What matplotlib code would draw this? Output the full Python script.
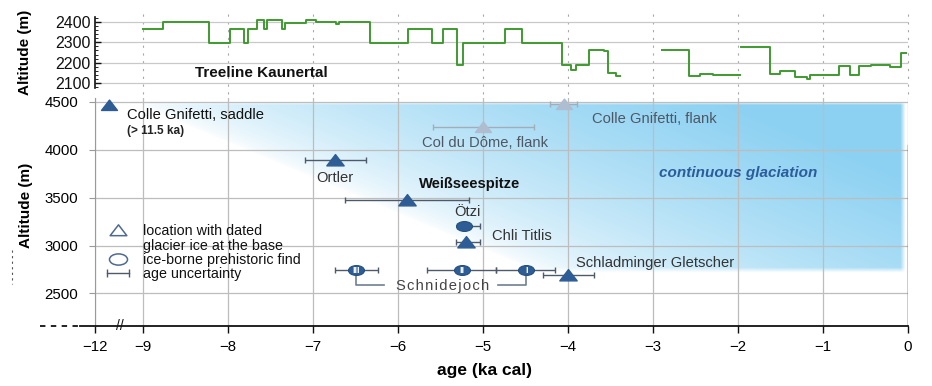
import numpy as np
import matplotlib
matplotlib.use("Agg")
import matplotlib.pyplot as plt
from matplotlib.path import Path
from matplotlib.lines import Line2D
from matplotlib.legend_handler import HandlerLine2D

plt.rcParams['font.family'] = ['Liberation Sans', 'DejaVu Sans']

# ---- data (ages in ka, negative = before present) ----
# treeline Kaunertal, step series (post), nan = gap
tree_age = [-9.03, -8.76, -8.22, -7.98, -7.81, -7.77, -7.66, -7.58, -7.54, -7.37,
            -7.33, -7.08, -6.96, -6.73, -6.69, -6.33, -5.88, -5.60, -5.47, -5.31,
            -5.23, -4.74, -4.54, -4.07, -3.97, -3.91, -3.75, -3.58, -3.53, -3.43,
            -3.39, np.nan,
            -2.90, -2.58, -2.45, -2.29, -1.98, np.nan,
            -1.96, -1.62, -1.51, -1.33, -1.19, -1.15, -0.81, -0.68, -0.58, -0.43,
            -0.21, -0.08, -0.02]
tree_alt = [2365, 2400, 2295, 2365, 2295, 2365, 2410, 2365, 2410, 2365,
            2395, 2410, 2400, 2390, 2400, 2295, 2365, 2295, 2365, 2188,
            2295, 2365, 2295, 2188, 2166, 2188, 2264, 2258, 2148, 2135,
            2135, np.nan,
            2261, 2133, 2146, 2141, 2141, np.nan,
            2277, 2146, 2160, 2130, 2120, 2141, 2182, 2141, 2182, 2190,
            2177, 2248, 2248]

# locations with dated glacier ice at the base
site_name = ["Ortler", "Weißseespitze", "Chli Titlis", "Schladminger Gletscher"]
site_age = [-6.74, -5.90, -5.20, -4.00]
site_alt = [3890, 3480, 3035, 2690]
site_lo = [-7.09, -6.62, -5.32, -4.30]
site_hi = [-6.38, -5.16, -5.04, -3.70]

saddle_age = [-11.1]
saddle_alt = [4465]

flank_name = ["Col du Dôme, flank", "Colle Gnifetti, flank"]
flank_age = [-5.00, -4.05]
flank_alt = [4235, 4478]
flank_lo = [-5.59, -4.21]
flank_hi = [-4.40, -3.89]

# ice-borne prehistoric finds
find_name = ["Ötzi", "III", "II", "I"]
find_age = [-5.22, -6.49, -5.25, -4.49]
find_alt = [3200, 2744, 2742, 2742]
find_lo = [-5.31, -6.74, -5.66, -4.85]
find_hi = [-5.04, -6.23, -4.85, -4.15]

x_ticks = [-12, -9, -8, -7, -6, -5, -4, -3, -2, -1, 0]
y_ticks = [2500, 3000, 3500, 4000, 4500]
tree_ticks = [2100, 2200, 2300, 2400]

# ---- broken x axis: everything older than 9 ka is squeezed ----
K = 0.1883


def fwd(a):
    a = np.asarray(a, float)
    return np.where(a < -9, -9 + (a + 9) * K, a)


def inv(p):
    p = np.asarray(p, float)
    return np.where(p < -9, -9 + (p + 9) / K, p)


DARK = "#2e5c94"
LIGHT = "#aebdd0"
EBAR = "#4d5a6c"
TXT = "#333333"
FS = 10.6

tri = Path([(-1, -0.62), (1, -0.62), (0, 0.68), (-1, -0.62)],
           [Path.MOVETO, Path.LINETO, Path.LINETO, Path.CLOSEPOLY])
uc = Path.unit_circle()
ell = Path(uc.vertices * np.array([1.0, 0.62]), uc.codes)

fig = plt.figure(figsize=(9.32, 3.86), dpi=100)
ax = fig.add_axes([95 / 932, 1 - 326 / 386, 813 / 932, 228 / 386])
axt = fig.add_axes([95 / 932, 1 - 88 / 386, 813 / 932, 71 / 386])

for a in (ax, axt):
    a.set_xscale("function", functions=(fwd, inv))
    a.set_xlim(-12, 0)

# ---- top panel: treeline ----
axt.step(tree_age, tree_alt, where="post", color="#3f9a2f", lw=1.4, zorder=3)
axt.set_ylim(2075, 2425)
axt.set_yticks(tree_ticks)
axt.set_yticks(np.arange(2080, 2425, 20), minor=True)
axt.set_xticks([])
axt.grid(axis="y", color="#c9c9c9", lw=0.9)
for t in x_ticks[1:]:
    axt.axvline(t, ymin=-0.08, ymax=1.1, clip_on=False, color="#a8a8a8",
                lw=0.8, ls=(0, (2, 5)), zorder=1)
for s in ("top", "right", "bottom"):
    axt.spines[s].set_visible(False)
axt.spines["left"].set_color("#111111")
axt.spines["left"].set_linewidth(1.2)
axt.tick_params(axis="y", which="major", direction="in", length=4, width=1,
                labelsize=11.5, pad=3, colors="#111111")
axt.tick_params(axis="y", which="minor", direction="in", length=2, width=0.6)
axt.set_ylabel("Altitude (m)", fontsize=11, fontweight="bold")
axt.yaxis.set_label_coords(-0.077, 0.5)
axt.text(-8.39, 2150, "Treeline Kaunertal", fontsize=11, fontweight="bold",
         va="center", color="#111111")

# ---- main panel ----
ax.set_ylim(2160, 4540)
ax.set_xticks(x_ticks)
ax.set_yticks(y_ticks)
ax.grid(color="#bdbdbd", lw=0.9, zorder=1)
ax.set_axisbelow(True)

# blue "continuous glaciation" field with a soft diagonal edge
gx = np.linspace(-9, 0, 900)
gy = np.linspace(2160, 4540, 300)
X, Y = np.meshgrid(gx, gy)
sx, sy = 85.0, 47.9 / 500
px, py = X * sx, Y * sy
ax0, ay0 = -9.15 * sx, 4500 * sy
bx0, by0 = -4.35 * sx, 2715 * sy
L = np.hypot(bx0 - ax0, by0 - ay0)
dx, dy = (bx0 - ax0) / L, (by0 - ay0) / L
d = (py - ay0) * dx - (px - ax0) * dy
alpha = np.clip(d / 230.0, 0, 1) ** 0.6
alpha *= np.clip((py - 2712 * sy) / 5.0, 0, 1)
alpha *= np.clip((4497 * sy - py) / 3.0, 0, 1)
alpha *= np.clip((-0.03 * sx - px) / 5.0, 0, 1)
rgba = np.zeros(X.shape + (4,))
rgba[..., 0], rgba[..., 1], rgba[..., 2] = 0.55, 0.82, 0.95
rgba[..., 3] = alpha
ax.imshow(rgba, extent=[-9, 0, 2160, 4540], origin="lower", aspect="auto",
          interpolation="bilinear", zorder=0.5)

ax.text(-2.0, 3760, "continuous glaciation", fontsize=11, fontweight="bold",
        style="italic", color="#2b5c9c", ha="center", va="center", zorder=4)


# error bars
def xerr(age, lo, hi):
    age, lo, hi = map(np.asarray, (age, lo, hi))
    return [age - lo, hi - age]


ax.errorbar(flank_age, flank_alt, xerr=xerr(flank_age, flank_lo, flank_hi),
            fmt="none", ecolor="#a3adba", elinewidth=1, capsize=2.5, capthick=1,
            zorder=2)
ax.errorbar(site_age, site_alt, xerr=xerr(site_age, site_lo, site_hi),
            fmt="none", ecolor=EBAR, elinewidth=1, capsize=2.5, capthick=1,
            zorder=2)
ax.errorbar(find_age, find_alt, xerr=xerr(find_age, find_lo, find_hi),
            fmt="none", ecolor=EBAR, elinewidth=1, capsize=2.5, capthick=1,
            zorder=2)

# markers
ax.plot(flank_age, flank_alt, ls="none", marker=tri, ms=11.5, color=LIGHT,
        zorder=3, clip_on=False)
ax.plot(site_age, site_alt, ls="none", marker=tri, ms=12.5, color=DARK,
        zorder=3)
ax.plot(saddle_age, saddle_alt, ls="none", marker=tri, ms=11.5, color=DARK,
        zorder=3, clip_on=False)
ax.plot(find_age, find_alt, ls="none", marker=ell, ms=11.5, color=DARK,
        mec="#24507f", mew=0.8, zorder=3)
for nm, a, h in zip(find_name[1:], find_age[1:], find_alt[1:]):
    ax.text(a, h, nm, color="white", fontsize=6.5, fontweight="bold",
            ha="center", va="center", zorder=4)


# labels
def lab(txt, x, y, off, **kw):
    opts = dict(fontsize=FS, color=TXT, va="center", ha="left", zorder=4)
    opts.update(kw)
    ax.annotate(txt, (x, y), xytext=off, textcoords="offset pixels", **opts)


lab("Colle Gnifetti, saddle", saddle_age[0], saddle_alt[0], (18, -10),
    color="#111111")
lab("(> 11.5 ka)", saddle_age[0], saddle_alt[0], (18, -26), fontsize=8.5,
    fontweight="bold", color="#222222")
lab(flank_name[0], flank_age[0], flank_alt[0], (2, -16), ha="center",
    color="#4e5864")
lab(flank_name[1], flank_age[1], flank_alt[1], (28, -15), color="#4e5864")
lab(site_name[0], site_age[0], site_alt[0], (0, -18), ha="center")
lab(site_name[1], site_age[1], site_alt[1], (12, 16), fontweight="bold",
    color="#111111")
lab(site_name[2], site_age[2], site_alt[2], (26, 6))
lab(site_name[3], site_age[3], site_alt[3], (8, 12))
lab(find_name[0], find_age[0], find_alt[0], (3, 14), ha="center")

# Schnidejoch bracket under the three finds
sj_y = 2585
ax.plot([find_age[1], find_age[1], -6.16], [find_alt[1] - 55, sj_y, sj_y],
        color="#6f7f92", lw=1.2, zorder=2)
ax.plot([-4.82, find_age[3], find_age[3]], [sj_y, sj_y, find_alt[3] - 55],
        color="#6f7f92", lw=1.2, zorder=2)
ax.text(-5.48, sj_y - 10, "\u200a".join("Schnidejoch"),
        fontsize=10.6, color="#444444", ha="center", va="center", zorder=4)

# legend
h_tri = Line2D([], [], ls="none", marker=tri, ms=12, mfc="none",
               mec="#4f6a8f", mew=1.1)
h_blank = Line2D([], [], ls="none")
h_ell = Line2D([], [], ls="none", marker=ell, ms=13, mfc="none",
               mec="#4f6a8f", mew=1.1)
h_err = Line2D([], [], color=EBAR, lw=1, marker="|", ms=6, mew=1)
leg = ax.legend([h_tri, h_blank, h_ell, h_err],
                ["location with dated", "glacier ice at the base",
                 "ice-borne prehistoric find", "age uncertainty"],
                loc="upper left", bbox_to_anchor=(0.0098, 0.447),
                frameon=False, fontsize=10.3, borderpad=0, borderaxespad=0,
                labelspacing=0.03, handlelength=2.1, handletextpad=0.7,
                handler_map={h_err: HandlerLine2D(numpoints=2)})
for t in leg.get_texts():
    t.set_color("#111111")

# axes styling
for s in ("top", "right", "bottom"):
    ax.spines[s].set_visible(False)
ax.spines["left"].set_color("#9a9a9a")
ax.tick_params(axis="y", length=4, color="#9a9a9a", labelsize=10.8, pad=8)
ax.tick_params(axis="x", length=5, width=1, color="#111111", labelsize=10.8,
               pad=5)
ax.axvline(0, ymin=0, ymax=0.794, color="#222222", lw=1, zorder=2)
ax.plot([-0.0185, 1.0], [0, 0], transform=ax.transAxes, clip_on=False,
        color="#111111", lw=1.3, zorder=5)
ax.plot([-0.068, -0.0185], [0, 0], transform=ax.transAxes, clip_on=False,
        color="#111111", lw=1.3, ls=(0, (3, 3)), zorder=5)
ax.text(0.031, 0, "//", transform=ax.transAxes, fontsize=10, ha="center",
        va="center", color="#111111", zorder=6, clip_on=False)
# small dashed mark left of the y label, as in the source figure
fig.add_artist(Line2D([12 / 932, 12 / 932], [1 - 250 / 386, 1 - 284 / 386],
                      color="#555555", lw=0.8, ls=(0, (2, 3))))

ax.set_ylabel("Altitude (m)", fontsize=11, fontweight="bold")
ax.yaxis.set_label_coords(-0.076, 0.53)
ax.set_xlabel("age (ka cal)", fontsize=12.5, fontweight="bold")
ax.xaxis.label.set_va("center")
ax.xaxis.set_label_coords(0.4785, -0.197)

fig.savefig("out.png", dpi=100)
